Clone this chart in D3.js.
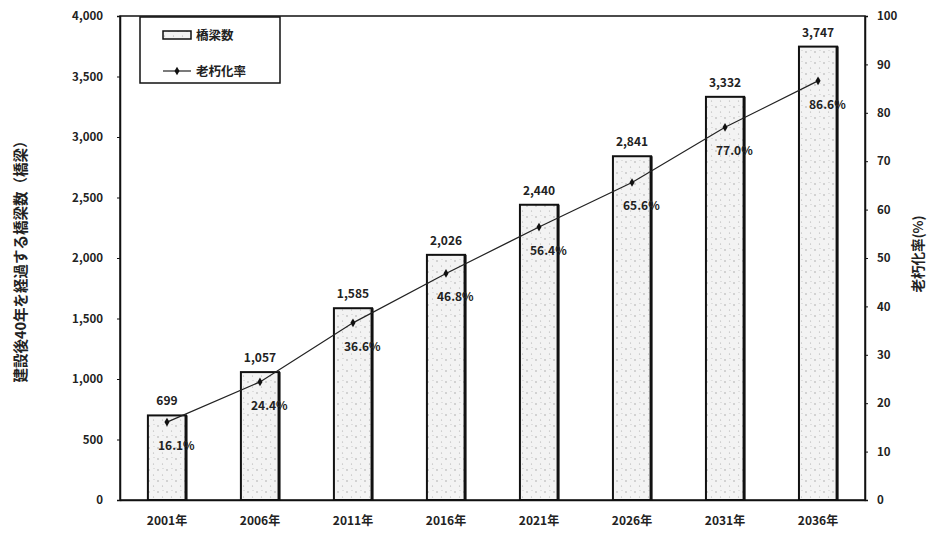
<!DOCTYPE html>
<html>
<head>
<meta charset="utf-8">
<script src="https://cdn.jsdelivr.net/npm/d3@7"></script>
<style>
  body { margin: 0; background: #fff; }
  text { font-family: "Noto Sans CJK JP", "Noto Sans", sans-serif; }
</style>
</head>
<body>
<div class="graphic"></div>
<script>
// data
const years = ["2001年", "2006年", "2011年", "2016年", "2021年", "2026年", "2031年", "2036年"];
const bridges = [699, 1057, 1585, 2026, 2440, 2841, 3332, 3747];
const agingRate = [16.1, 24.4, 36.6, 46.8, 56.4, 65.6, 77.0, 86.6];
const leftTicks = [0, 500, 1000, 1500, 2000, 2500, 3000, 3500, 4000];
const rightTicks = [0, 10, 20, 30, 40, 50, 60, 70, 80, 90, 100];

const W = 949, H = 540;
const margin = {top: 16, right: 84, bottom: 40, left: 120};
const plotW = W - margin.left - margin.right;
const plotH = H - margin.top - margin.bottom;

const svg = d3.select(".graphic")
  .append("svg")
    .attr("width", W)
    .attr("height", H);

// dotted fill like the scanned bars
const defs = svg.append("defs");
const pat = defs.append("pattern")
    .attr("id", "dots")
    .attr("width", 9)
    .attr("height", 11)
    .attr("patternUnits", "userSpaceOnUse");
pat.append("rect").attr("width", 9).attr("height", 11).attr("fill", "#f3f3f3");
pat.append("circle").attr("cx", 2).attr("cy", 3).attr("r", 0.7).attr("fill", "#999");
pat.append("circle").attr("cx", 6.5).attr("cy", 8).attr("r", 0.6).attr("fill", "#aaa");
pat.append("circle").attr("cx", 7).attr("cy", 1.5).attr("r", 0.5).attr("fill", "#bbb");

const g = svg.append("g")
    .attr("transform", `translate(${margin.left},${margin.top})`);

const x = d3.scaleBand()
    .domain(years)
    .range([0, plotW])
    .paddingInner(0.59)
    .paddingOuter(0.3);

const yL = d3.scaleLinear().domain([0, 4000]).range([plotH, 0]);
const yR = d3.scaleLinear().domain([0, 100]).range([plotH, 0]);

// frame
g.append("rect")
    .attr("width", plotW)
    .attr("height", plotH)
    .attr("fill", "none")
    .attr("stroke", "#111")
    .attr("stroke-width", 1.5);

// axes
const leftAxis = g.append("g")
    .call(d3.axisLeft(yL).tickValues(leftTicks).tickFormat(d3.format(",")).tickSize(3).tickPadding(14));
const rightAxis = g.append("g")
    .attr("transform", `translate(${plotW},0)`)
    .call(d3.axisRight(yR).tickValues(rightTicks).tickSize(3).tickPadding(9));
const bottomAxis = g.append("g")
    .attr("transform", `translate(0,${plotH})`)
    .call(d3.axisBottom(x).tickSize(0).tickPadding(16));

[leftAxis, rightAxis, bottomAxis].forEach(a => {
  a.select(".domain").attr("stroke", "#111").attr("stroke-width", 1.5);
  a.selectAll(".tick line").attr("stroke", "#111");
  a.selectAll("text")
    .attr("font-size", 11.5)
    .attr("font-weight", "bold")
    .attr("fill", "#222");
});
bottomAxis.selectAll("text").attr("font-size", 12);

// bars
const bars = g.selectAll(".bar")
  .data(years)
  .join("g")
    .attr("class", "bar");

bars.append("rect")
    .attr("x", d => x(d))
    .attr("y", (d, i) => yL(bridges[i]))
    .attr("width", x.bandwidth())
    .attr("height", (d, i) => plotH - yL(bridges[i]))
    .attr("fill", "url(#dots)")
    .attr("stroke", "#111")
    .attr("stroke-width", 2);

// heavier right edge as in the scan
bars.append("line")
    .attr("x1", d => x(d) + x.bandwidth())
    .attr("x2", d => x(d) + x.bandwidth())
    .attr("y1", (d, i) => yL(bridges[i]))
    .attr("y2", plotH)
    .attr("stroke", "#111")
    .attr("stroke-width", 3);

bars.append("text")
    .attr("x", d => x(d) + x.bandwidth() / 2)
    .attr("y", (d, i) => yL(bridges[i]) - 10)
    .attr("text-anchor", "middle")
    .attr("font-size", 12)
    .attr("font-weight", "bold")
    .attr("fill", "#222")
    .text((d, i) => d3.format(",")(bridges[i]));

// aging rate line
const cx = d => x(d) + x.bandwidth() / 2;
const line = d3.line()
    .x((d, i) => cx(years[i]))
    .y(d => yR(d));

g.append("path")
    .datum(agingRate)
    .attr("d", line)
    .attr("fill", "none")
    .attr("stroke", "#222")
    .attr("stroke-width", 1.2);

g.selectAll(".pt")
  .data(agingRate)
  .join("path")
    .attr("class", "pt")
    .attr("d", d3.symbol(d3.symbolDiamond, 22))
    .attr("transform", (d, i) => `translate(${cx(years[i])},${yR(d)})`)
    .attr("fill", "#111");

g.selectAll(".pct")
  .data(agingRate)
  .join("text")
    .attr("class", "pct")
    .attr("x", (d, i) => cx(years[i]) - 9)
    .attr("y", d => yR(d) + 28)
    .attr("font-size", 12)
    .attr("font-weight", "bold")
    .attr("fill", "#222")
    .text(d => d.toFixed(1) + "%");

// axis titles
svg.append("text")
    .attr("transform", `translate(26,${margin.top + plotH / 2}) rotate(-90)`)
    .attr("text-anchor", "middle")
    .attr("font-size", 14.5)
    .attr("font-weight", "bold")
    .attr("fill", "#222")
    .text("建設後40年を経過する橋梁数（橋梁）");

svg.append("text")
    .attr("transform", `translate(923,${margin.top + plotH / 2 - 4}) rotate(-90)`)
    .attr("text-anchor", "middle")
    .attr("font-size", 13.5)
    .attr("font-weight", "bold")
    .attr("fill", "#222")
    .text("老朽化率(%)");

// legend
const lg = svg.append("g").attr("transform", "translate(140,17)");
lg.append("rect")
    .attr("width", 140)
    .attr("height", 66)
    .attr("fill", "#fff")
    .attr("stroke", "#111")
    .attr("stroke-width", 1.5);
lg.append("rect")
    .attr("x", 23).attr("y", 14)
    .attr("width", 28).attr("height", 8)
    .attr("fill", "url(#dots)")
    .attr("stroke", "#111")
    .attr("stroke-width", 1.5);
lg.append("text")
    .attr("x", 56).attr("y", 23)
    .attr("font-size", 12.5)
    .attr("font-weight", "bold")
    .attr("fill", "#222")
    .text("橋梁数");
lg.append("line")
    .attr("x1", 23).attr("x2", 51)
    .attr("y1", 54).attr("y2", 54)
    .attr("stroke", "#222")
    .attr("stroke-width", 1.2);
lg.append("path")
    .attr("d", d3.symbol(d3.symbolDiamond, 22))
    .attr("transform", "translate(37,54)")
    .attr("fill", "#111");
lg.append("text")
    .attr("x", 56).attr("y", 59)
    .attr("font-size", 12.5)
    .attr("font-weight", "bold")
    .attr("fill", "#222")
    .text("老朽化率");
</script>
</body>
</html>
